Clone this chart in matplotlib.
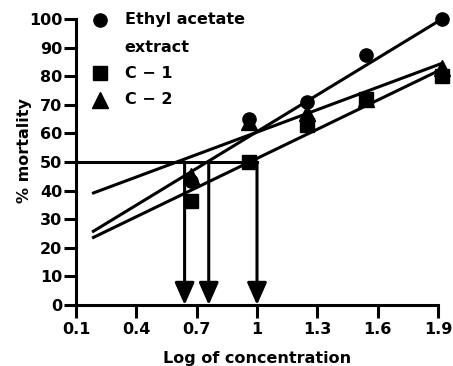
import matplotlib
matplotlib.use('Agg')
import matplotlib.pyplot as plt

# log concentration for each dose
log_conc = [0.67, 0.96, 1.25, 1.54, 1.92]

# % mortality per sample
ethyl_mort = [43.5, 65, 71, 87.5, 100]
c1_mort = [36.5, 50, 63, 72, 80]
c2_mort = [45, 64, 67, 72, 83]

# regression lines
fit_x = [0.18, 1.92]
ethyl_fit = [25.5, 100]
c1_fit = [23.4, 82.5]
c2_fit = [39, 84.5]

# log LC50 arrows
lc50_x = [0.64, 0.76, 1.0]

names = ['Ethyl acetate', 'C \u2212 1', 'C \u2212 2']
xticks = [0.1, 0.4, 0.7, 1.0, 1.3, 1.6, 1.9]
xtick_labels = ['0.1', '0.4', '0.7', '1', '1.3', '1.6', '1.9']

plt.rcParams['font.family'] = ['DejaVu Sans']
plt.rcParams['font.weight'] = 'bold'
fs = 11.5

fig = plt.figure(figsize=(4.53, 3.66), dpi=100)
ax = fig.add_axes([76 / 453, 1 - 305 / 366, 362 / 453, 286 / 366])

series = [
    (ethyl_mort, ethyl_fit, 'o', 9.5),
    (c1_mort, c1_fit, 's', 10),
    (c2_mort, c2_fit, '^', 11),
]

for mort, fit, mk, ms in series:
    ax.plot(fit_x, fit, color='black', lw=2.2, solid_capstyle='butt', clip_on=False)
    ax.plot(log_conc, mort, linestyle='none', marker=mk, ms=ms, color='black', clip_on=False)

# 50% line and arrows down to the axis
ax.plot([0.1, max(lc50_x)], [50, 50], color='black', lw=2.2, clip_on=False)
for xv in lc50_x:
    ax.annotate('', xy=(xv, 0), xytext=(xv, 50),
                arrowprops=dict(arrowstyle='-|>,head_length=0.68,head_width=0.3',
                                mutation_scale=20, lw=2.2, color='black',
                                shrinkA=0, shrinkB=0),
                annotation_clip=False)

# legend drawn by hand
leg_y = [0.997, 0.811, 0.717]
for (mort, fit, mk, ms), name, yy in zip(series, names, leg_y):
    ax.plot([0.066], [yy], marker=mk, ms=ms, color='black', transform=ax.transAxes, clip_on=False)
    ax.text(0.135, yy, name, transform=ax.transAxes, fontsize=fs, fontweight='bold',
            va='center', ha='left')
ax.text(0.135, 0.902, 'extract', transform=ax.transAxes, fontsize=fs, fontweight='bold',
        va='center', ha='left')

ax.set_xlim(0.1, 1.9)
ax.set_ylim(0, 100)
ax.set_xticks(xticks)
ax.set_xticklabels(xtick_labels)
ax.set_yticks(range(0, 101, 10))

for s in ['top', 'right']:
    ax.spines[s].set_visible(False)
for s in ['left', 'bottom']:
    ax.spines[s].set_linewidth(2.2)

ax.tick_params(axis='y', direction='out', length=9, width=2.2, pad=1, labelsize=fs)
ax.tick_params(axis='x', direction='out', length=9, width=2.2, pad=3.5, labelsize=fs)
for lab in ax.get_xticklabels() + ax.get_yticklabels():
    lab.set_fontweight('bold')

ax.set_xlabel('Log of concentration', fontsize=fs, fontweight='bold', labelpad=10)
ax.set_ylabel('% mortality', fontsize=fs, fontweight='bold')
ax.yaxis.set_label_coords(-0.122, 0.54)

fig.savefig('out.png', dpi=100)
